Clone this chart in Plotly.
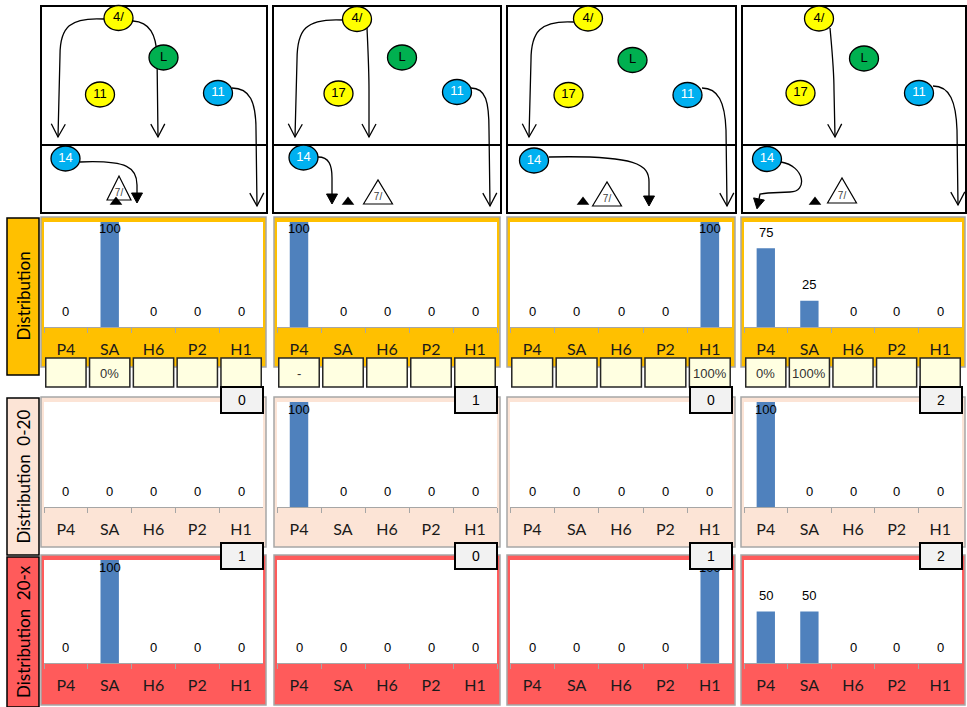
import math
import plotly.graph_objects as go

W, H = 967, 707

categories = ["P4", "SA", "H6", "P2", "H1"]

# one list per scenario (4 columns), one block per distribution row
dist_all = [[0, 100, 0, 0, 0], [100, 0, 0, 0, 0], [0, 0, 0, 0, 100], [75, 25, 0, 0, 0]]
dist_0_20 = [[0, 0, 0, 0, 0], [100, 0, 0, 0, 0], [0, 0, 0, 0, 0], [100, 0, 0, 0, 0]]
dist_20_x = [[0, 100, 0, 0, 0], [0, 0, 0, 0, 0], [0, 0, 0, 0, 100], [50, 50, 0, 0, 0]]

pct_labels = [
    ["", "0%", "", "", ""],
    ["-", "", "", "", ""],
    ["", "", "", "", "100%"],
    ["0%", "100%", "", "", ""],
]
count_0_20 = [0, 1, 0, 2]
count_20_x = [1, 0, 1, 2]

row_titles = ["Distribution", "Distribution\u00a0\u00a00-20", "Distribution\u00a0\u00a020-x"]

# play diagrams: (label, team, x, y) in page pixels
players = [
    [("4/", "yellow", 118.5, 18), ("L", "green", 163.5, 57.5), ("11", "yellow", 100, 94.5),
     ("11", "blue", 218, 93), ("14", "blue", 65.5, 158.5)],
    [("4/", "yellow", 357, 19), ("L", "green", 402, 57.5), ("17", "yellow", 338.5, 93.5),
     ("11", "blue", 457, 92), ("14", "blue", 303.5, 157.5)],
    [("4/", "yellow", 588, 18.5), ("L", "green", 632.5, 60), ("17", "yellow", 568.5, 95),
     ("11", "blue", 687.5, 95), ("14", "blue", 534, 160.5)],
    [("4/", "yellow", 819, 18.5), ("L", "green", 864, 58.5), ("17", "yellow", 800.5, 93),
     ("11", "blue", 919, 93), ("14", "blue", 767, 159)],
]
routes = [
    [("open", [(104, 19), (70, 17), (60, 27), (60, 55), (58, 137)]),
     ("open", [(133, 21), (150, 22), (156, 35), (157, 55), (158, 137)]),
     ("open", [(232, 88), (250, 88), (256, 102), (256, 130), (257, 206)]),
     ("solid", [(80, 162), (128, 160), (137, 168), (137, 185), (137, 193)])],
    [("open", [(343, 20), (305, 18), (297, 30), (297, 60), (295, 137)]),
     ("open", [(367, 28), (368, 50), (369, 70), (369, 90), (369, 137)]),
     ("open", [(471, 88), (486, 88), (489, 102), (489, 130), (490, 206)]),
     ("solid", [(318, 157), (329, 157), (332, 165), (332, 178), (332, 194)])],
    [("open", [(574, 22), (540, 20), (531, 32), (531, 60), (529, 137)]),
     ("open", [(702, 88), (718, 88), (725, 102), (726, 130), (727, 206)]),
     ("solid", [(549, 157), (638, 155), (649, 165), (649, 182), (649, 196)])],
    [("open", [(830, 28), (832, 50), (834, 70), (834, 90), (835, 137)]),
     ("open", [(933, 86), (950, 86), (956, 102), (957, 130), (958, 205)]),
     ("solid", [(781, 162), (805, 166), (808, 192), (790, 192), (768, 193), (760, 194), (759, 199)])],
]
cones = [(119, 176, 200, 12), (378, 180, 204, 14.5), (607, 182, 206, 14.5), (842, 178, 203, 14.5)]
markers = [(116, 202), (348, 202), (583, 202), (815, 202)]

team_fill = {"yellow": "#FFFF00", "green": "#00B050", "blue": "#00B0F0"}
team_text = {"yellow": "black", "green": "black", "blue": "white"}

# page layout in pixels
diagram_x = [(41, 267), (273, 501), (507, 736), (742, 966)]
panel_x = [(41, 266), (274, 500), (507, 735), (741, 965)]
plot_x = [(44, 263), (277, 497), (510, 732), (744, 962)]
panel_y = [(217, 367), (397, 547), (555, 705)]
plot_y = [(222, 327), (402, 507), (560, 663)]
title_y = [(218, 375), (398, 555), (557, 707)]
row_fill = ["#FFC000", "#FCE4D6", "#FF5B5B"]

ARIAL = "Liberation Sans, Arial"
CALIBRI = "Lato, Carlito, Calibri"


def px(x):
    return x / W


def py(y):
    return 1 - y / H


def route_path(pts):
    s = "M %.1f,%.1f C " % pts[0] + " ".join("%.1f,%.1f" % p for p in pts[1:4])
    for p in pts[4:]:
        s += " L %.1f,%.1f" % p
    return s


def head_path(pts, kind):
    (x0, y0), (x1, y1) = pts[-2], pts[-1]
    d = math.hypot(x1 - x0, y1 - y0)
    ux, uy = (x1 - x0) / d, (y1 - y0) / d
    nx, ny = -uy, ux
    if kind == "open":
        bx, by = x1 - ux * 13, y1 - uy * 13
        return "M %.1f,%.1f L %.1f,%.1f L %.1f,%.1f" % (
            bx + nx * 7, by + ny * 7, x1, y1, bx - nx * 7, by - ny * 7)
    tx, ty = x1 + ux * 10, y1 + uy * 10
    return "M %.1f,%.1f L %.1f,%.1f L %.1f,%.1f Z" % (
        x1 + nx * 5.5, y1 + ny * 5.5, tx, ty, x1 - nx * 5.5, y1 - ny * 5.5)


fig = go.Figure()
axes = {}
shapes = []
labels = []
boxes = []

# row title boxes on the left
for r, title in enumerate(row_titles):
    y0, y1 = title_y[r]
    shapes.append(dict(type="rect", xref="paper", yref="paper", layer="below",
                       x0=px(7), x1=px(39), y0=py(y1), y1=py(y0),
                       fillcolor=row_fill[r], line=dict(color="black", width=1.5)))
    labels.append(dict(xref="paper", yref="paper", x=px(23), y=py((y0 + y1) / 2),
                       xanchor="center", yanchor="middle",
                       text=title, textangle=-90, showarrow=False,
                       font=dict(family=CALIBRI, size=17, color="black")))

n = 0
for r, block in enumerate([dist_all, dist_0_20, dist_20_x]):
    for c, values in enumerate(block):
        n += 1
        key = "" if n == 1 else str(n)
        xa, ya = "x" + key, "y" + key
        fig.add_trace(go.Bar(x=categories, y=values, xaxis=xa, yaxis=ya, width=0.42,
                             marker=dict(color="#4F81BD", line=dict(width=0)),
                             hoverinfo="skip", showlegend=False))
        axes["xaxis" + key] = dict(
            domain=[px(plot_x[c][0]), px(plot_x[c][1])], anchor=ya, type="category",
            categoryorder="array", categoryarray=categories, range=[-0.5, 4.5],
            showline=True, linecolor="#A6A6A6", linewidth=1, mirror=False,
            ticks="outside", tickson="boundaries", ticklen=5, tickcolor="#A6A6A6",
            tickfont=dict(family=CALIBRI, size=16, color="#1A1A1A"),
            ticklabelstandoff=8, showgrid=False, zeroline=False, fixedrange=True)
        axes["yaxis" + key] = dict(
            domain=[py(plot_y[r][1]), py(plot_y[r][0])], anchor=xa, range=[0, 100],
            visible=False, fixedrange=True)
        shapes.append(dict(type="rect", xref="paper", yref="paper", layer="below",
                           x0=px(panel_x[c][0]), x1=px(panel_x[c][1]),
                           y0=py(panel_y[r][1]), y1=py(panel_y[r][0]),
                           fillcolor=row_fill[r], line=dict(color="#A6A6A6", width=1.5)))
        shapes.append(dict(type="rect", xref="paper", yref="paper", layer="below",
                           x0=px(plot_x[c][0]), x1=px(plot_x[c][1]),
                           y0=py(plot_y[r][1]), y1=py(plot_y[r][0]),
                           fillcolor="white", line=dict(width=0)))
        for i, v in enumerate(values):
            labels.append(dict(xref=xa, yref=ya, x=categories[i], y=v, text=str(v),
                               showarrow=False, yshift=-7 if v >= 90 else 16,
                               font=dict(family=ARIAL, size=13, color="black")))

        if r == 0:
            # percentage cells under the first row
            for i, t in enumerate(pct_labels[c]):
                shapes.append(dict(type="rect", xref=xa, yref="paper", layer="below",
                                   x0=i - 0.46, x1=i + 0.46, y0=py(387), y1=py(358),
                                   fillcolor="#FFFFE1", line=dict(color="#262626", width=1.5)))
                if t:
                    labels.append(dict(xref=xa, yref="paper", x=categories[i], y=py(373),
                                       text=t, showarrow=False,
                                       font=dict(family=ARIAL, size=13, color="#333333")))

# count boxes between the rows
for counts, yc in [(count_0_20, 400), (count_20_x, 556)]:
    for c, v in enumerate(counts):
        boxes.append(dict(xref="paper", yref="paper", x=px(plot_x[c][1] + 1), y=py(yc),
                          xanchor="right", yanchor="middle", text=str(v), showarrow=False,
                          width=40, height=24, borderpad=0, borderwidth=2,
                          bgcolor="#F2F2F2", bordercolor="black",
                          font=dict(family=ARIAL, size=14, color="black")))

# play diagrams on a full-page pixel axis
axes["xaxis13"] = dict(domain=[0, 1], range=[0, W], visible=False, anchor="y13", fixedrange=True)
axes["yaxis13"] = dict(domain=[0, 1], range=[H, 0], visible=False, anchor="x13", fixedrange=True)
d = dict(xref="x13", yref="y13", layer="below")

for c, (x0, x1) in enumerate(diagram_x):
    shapes.append(dict(type="rect", x0=x0, x1=x1, y0=6, y1=213, fillcolor="rgba(0,0,0,0)",
                       line=dict(color="black", width=2), **d))
    shapes.append(dict(type="line", x0=x0, x1=x1, y0=145, y1=145,
                       line=dict(color="black", width=2), **d))
    for kind, pts in routes[c]:
        shapes.append(dict(type="path", path=route_path(pts), fillcolor="rgba(0,0,0,0)",
                           line=dict(color="black", width=1.3), **d))
        if kind == "open":
            shapes.append(dict(type="path", path=head_path(pts, kind), fillcolor="rgba(0,0,0,0)",
                               line=dict(color="black", width=1.3), **d))
        else:
            shapes.append(dict(type="path", path=head_path(pts, kind), fillcolor="black",
                               line=dict(color="black", width=1), **d))
    cx, top, base, hw = cones[c]
    shapes.append(dict(type="path",
                       path="M %.1f,%.1f L %.1f,%.1f L %.1f,%.1f Z" % (cx - hw, base, cx, top, cx + hw, base),
                       fillcolor="white", line=dict(color="black", width=1.2), **d))
    for label, team, x, y in players[c]:
        shapes.append(dict(type="circle", x0=x - 14.5, x1=x + 14.5, y0=y - 12.5, y1=y + 12.5,
                           fillcolor=team_fill[team], line=dict(color="black", width=1.3), **d))

all_players = [p for col in players for p in col]
fig.add_trace(go.Scatter(
    x=[p[2] for p in all_players], y=[p[3] for p in all_players],
    text=[p[0] for p in all_players], mode="text", textposition="middle center",
    textfont=dict(family=ARIAL, size=13, color=[team_text[p[1]] for p in all_players]),
    xaxis="x13", yaxis="y13", hoverinfo="skip", showlegend=False))
fig.add_trace(go.Scatter(
    x=[m[0] for m in cones], y=[m[2] - 7 for m in cones], text=["7/"] * len(cones),
    mode="text", textposition="middle center",
    textfont=dict(family=ARIAL, size=10, color="#404040"),
    xaxis="x13", yaxis="y13", hoverinfo="skip", showlegend=False))
fig.add_trace(go.Scatter(
    x=[m[0] for m in markers], y=[m[1] for m in markers], mode="markers",
    marker=dict(symbol="triangle-up", size=11, color="black"),
    xaxis="x13", yaxis="y13", hoverinfo="skip", showlegend=False))

fig.update_layout(
    width=W, height=H, margin=dict(l=0, r=0, t=0, b=0),
    paper_bgcolor="white", plot_bgcolor="rgba(0,0,0,0)",
    showlegend=False, shapes=shapes, annotations=labels + boxes, **axes)

# the page body has a default 8px margin; drop it so the chart sits at 0,0
fig.write_html("out.html", config={"displayModeBar": False},
               post_script="document.body.style.margin='0';")
